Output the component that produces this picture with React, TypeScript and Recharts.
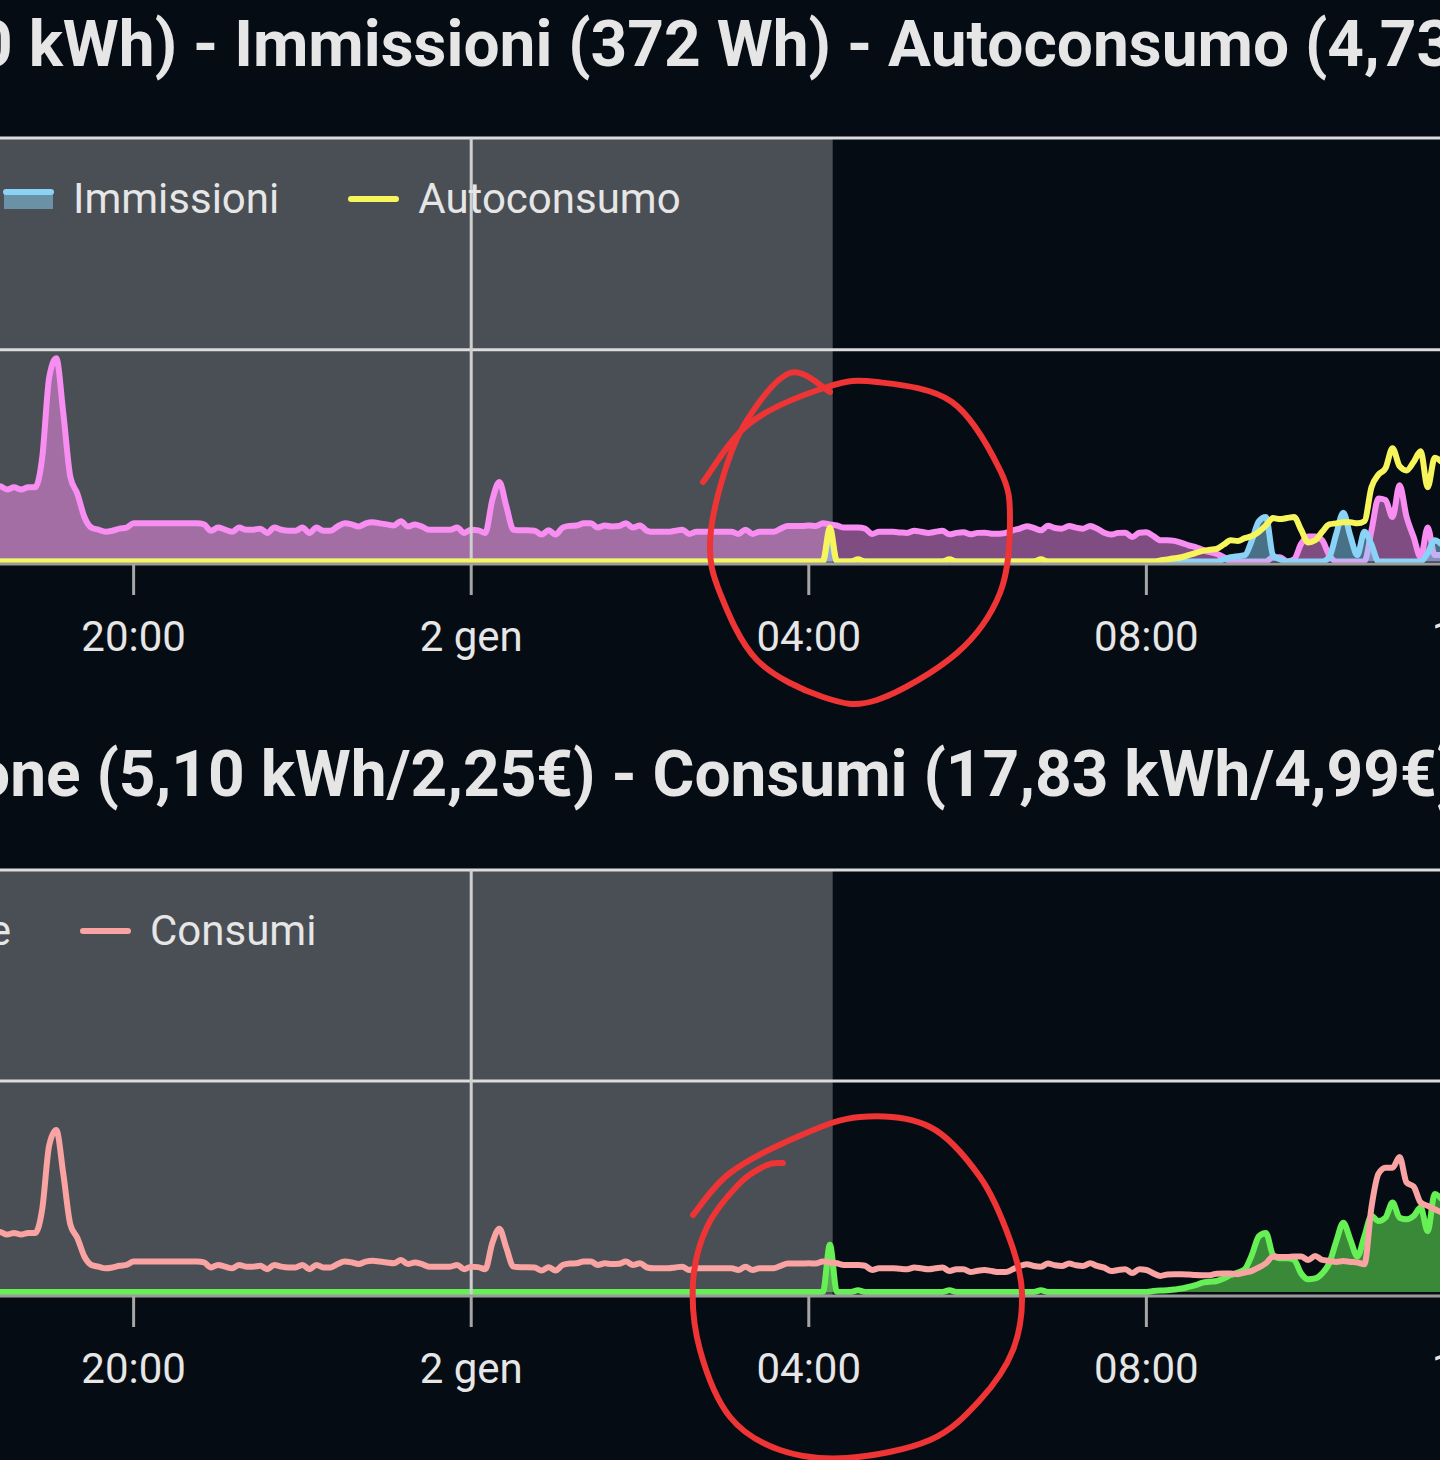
import React from "react";
import { ComposedChart, Area, Line, XAxis, YAxis, ReferenceArea, ReferenceLine, Legend } from "recharts";

// samples every 5 minutes, first one at 18:20 of 1 gen (minutes relative to midnight of 2 gen)
const START_MIN = -340;
const STEP_MIN = 5;

// kW, grid import (pink area, top chart)
const prelievi = [
  0.35, 0.355, 0.34, 0.35, 0.34, 0.35, 0.35, 0.49, 0.87, 0.96, 0.7, 0.4, // 18:20
  0.32, 0.21, 0.16, 0.15, 0.14, 0.145, 0.155, 0.16, 0.18, 0.18, 0.18, 0.18, // 19:20
  0.18, 0.18, 0.18, 0.18, 0.18, 0.18, 0.175, 0.145, 0.16, 0.15, 0.14, 0.16, // 20:20
  0.15, 0.15, 0.155, 0.135, 0.16, 0.15, 0.145, 0.145, 0.16, 0.135, 0.16, 0.145, // 21:20
  0.145, 0.165, 0.18, 0.175, 0.165, 0.18, 0.185, 0.18, 0.175, 0.17, 0.19, 0.165, // 22:20
  0.175, 0.165, 0.15, 0.15, 0.15, 0.15, 0.16, 0.135, 0.15, 0.147, 0.135, 0.29, // 23:20
  0.375, 0.26, 0.15, 0.147, 0.147, 0.145, 0.127, 0.147, 0.127, 0.16, 0.168, 0.17, // 00:20
  0.18, 0.18, 0.16, 0.17, 0.165, 0.167, 0.18, 0.16, 0.17, 0.145, 0.14, 0.14, // 01:20
  0.14, 0.145, 0.15, 0.13, 0.14, 0.14, 0.14, 0.14, 0.14, 0.14, 0.13, 0.15, // 02:20
  0.13, 0.14, 0.14, 0.14, 0.155, 0.168, 0.168, 0.168, 0.17, 0.168, 0.18, 0.175, // 03:20
  0.17, 0.16, 0.16, 0.16, 0.155, 0.13, 0.14, 0.14, 0.14, 0.137, 0.135, 0.145, // 04:20
  0.14, 0.135, 0.14, 0.145, 0.128, 0.135, 0.138, 0.128, 0.135, 0.136, 0.131, 0.131, // 05:20
  0.135, 0.147, 0.155, 0.166, 0.158, 0.147, 0.169, 0.158, 0.155, 0.168, 0.16, 0.155, // 06:20
  0.168, 0.155, 0.136, 0.127, 0.135, 0.136, 0.115, 0.136, 0.138, 0.12, 0.1, 0.1, // 07:20
  0.097, 0.088, 0.076, 0.068, 0.055, 0.044, 0.036, 0.02, 0, 0, 0, 0, // 08:20
  0, 0, 0.02, 0.02, 0, 0.01, 0.083, 0.118, 0.118, 0.1, 0.03, 0, // 09:20
  0, 0, 0, 0, 0.145, 0.297, 0.29, 0.21, 0.36, 0.21, 0.115, 0.02, // 10:20
  0.16, 0.03, 0.03, // 11:20
];

// kW, grid export (blue area, top chart)
const immissioni = [
  0, 0, 0, 0, 0, 0, 0, 0, 0, 0, 0, 0,
  0, 0, 0, 0, 0, 0, 0, 0, 0, 0, 0, 0,
  0, 0, 0, 0, 0, 0, 0, 0, 0, 0, 0, 0,
  0, 0, 0, 0, 0, 0, 0, 0, 0, 0, 0, 0,
  0, 0, 0, 0, 0, 0, 0, 0, 0, 0, 0, 0,
  0, 0, 0, 0, 0, 0, 0, 0, 0, 0, 0, 0,
  0, 0, 0, 0, 0, 0, 0, 0, 0, 0, 0, 0,
  0, 0, 0, 0, 0, 0, 0, 0, 0, 0, 0, 0,
  0, 0, 0, 0, 0, 0, 0, 0, 0, 0, 0, 0,
  0, 0, 0, 0, 0, 0, 0, 0, 0, 0, 0, 0.13,
  0, 0, 0, 0, 0, 0, 0, 0, 0, 0, 0, 0,
  0, 0, 0, 0, 0, 0, 0, 0, 0, 0, 0, 0,
  0, 0, 0, 0, 0, 0, 0, 0, 0, 0, 0, 0,
  0, 0, 0, 0, 0, 0, 0, 0, 0, 0, 0, 0,
  0, 0, 0, 0, 0, 0, 0, 0.01, 0.02, 0.025, 0.03, 0.1,
  0.19, 0.21, 0.03, 0.01, 0, 0, 0, 0, 0, 0, 0.02, 0.13,
  0.23, 0.12, 0.03, 0.14, 0.08, 0, 0, 0, 0, 0, 0, 0,
  0.04, 0.1, 0.08,
];

// kW, self consumption (yellow line, top chart)
const autoconsumo = [
  0, 0, 0, 0, 0, 0, 0, 0, 0, 0, 0, 0,
  0, 0, 0, 0, 0, 0, 0, 0, 0, 0, 0, 0,
  0, 0, 0, 0, 0, 0, 0, 0, 0, 0, 0, 0,
  0, 0, 0, 0, 0, 0, 0, 0, 0, 0, 0, 0,
  0, 0, 0, 0, 0, 0, 0, 0, 0, 0, 0, 0,
  0, 0, 0, 0, 0, 0, 0, 0, 0, 0, 0, 0,
  0, 0, 0, 0, 0, 0, 0, 0, 0, 0, 0, 0,
  0, 0, 0, 0, 0, 0, 0, 0, 0, 0, 0, 0,
  0, 0, 0, 0, 0, 0, 0, 0, 0, 0, 0, 0,
  0, 0, 0, 0, 0, 0, 0, 0, 0, 0, 0, 0.16,
  0, 0, 0, 0.01, 0, 0, 0, 0, 0, 0, 0, 0,
  0, 0, 0, 0, 0.01, 0, 0, 0, 0, 0, 0, 0,
  0, 0, 0, 0, 0, 0.01, 0, 0, 0, 0, 0, 0,
  0, 0, 0, 0, 0, 0, 0, 0, 0, 0, 0.005, 0.01,
  0.015, 0.02, 0.03, 0.04, 0.05, 0.055, 0.06, 0.08, 0.1, 0.097, 0.11, 0.12,
  0.14, 0.17, 0.205, 0.2, 0.205, 0.21, 0.15, 0.09, 0.1, 0.14, 0.175, 0.18,
  0.185, 0.185, 0.18, 0.19, 0.35, 0.41, 0.44, 0.535, 0.45, 0.43, 0.47, 0.52,
  0.35, 0.49, 0.47,
];

// kW, solar production (green area, bottom chart)
const produzione = [
  0, 0, 0, 0, 0, 0, 0, 0, 0, 0, 0, 0,
  0, 0, 0, 0, 0, 0, 0, 0, 0, 0, 0, 0,
  0, 0, 0, 0, 0, 0, 0, 0, 0, 0, 0, 0,
  0, 0, 0, 0, 0, 0, 0, 0, 0, 0, 0, 0,
  0, 0, 0, 0, 0, 0, 0, 0, 0, 0, 0, 0,
  0, 0, 0, 0, 0, 0, 0, 0, 0, 0, 0, 0,
  0, 0, 0, 0, 0, 0, 0, 0, 0, 0, 0, 0,
  0, 0, 0, 0, 0, 0, 0, 0, 0, 0, 0, 0,
  0, 0, 0, 0, 0, 0, 0, 0, 0, 0, 0, 0,
  0, 0, 0, 0, 0, 0, 0, 0, 0, 0, 0, 0.28,
  0, 0, 0, 0.01, 0, 0, 0, 0, 0, 0, 0, 0,
  0, 0, 0, 0, 0.01, 0, 0, 0, 0, 0, 0, 0,
  0, 0, 0, 0, 0, 0.01, 0, 0, 0, 0, 0, 0,
  0, 0, 0, 0, 0, 0, 0, 0, 0, 0.005, 0.008, 0.01,
  0.015, 0.02, 0.03, 0.04, 0.055, 0.06, 0.065, 0.08, 0.1, 0.115, 0.135, 0.22,
  0.33, 0.35, 0.22, 0.2, 0.2, 0.19, 0.11, 0.075, 0.08, 0.11, 0.17, 0.3,
  0.41, 0.31, 0.21, 0.33, 0.45, 0.42, 0.44, 0.53, 0.44, 0.43, 0.45, 0.5,
  0.36, 0.58, 0.55,
];

// kW, house consumption (salmon line, bottom chart)
const consumi = [
  0.35, 0.355, 0.34, 0.35, 0.34, 0.35, 0.35, 0.49, 0.87, 0.96, 0.7, 0.4,
  0.32, 0.21, 0.16, 0.15, 0.14, 0.145, 0.155, 0.16, 0.18, 0.18, 0.18, 0.18,
  0.18, 0.18, 0.18, 0.18, 0.18, 0.18, 0.175, 0.145, 0.16, 0.15, 0.14, 0.16,
  0.15, 0.15, 0.155, 0.135, 0.16, 0.15, 0.145, 0.145, 0.16, 0.135, 0.16, 0.145,
  0.145, 0.165, 0.18, 0.175, 0.165, 0.18, 0.185, 0.18, 0.175, 0.17, 0.19, 0.165,
  0.175, 0.165, 0.15, 0.15, 0.15, 0.15, 0.16, 0.135, 0.15, 0.147, 0.135, 0.29,
  0.375, 0.26, 0.15, 0.147, 0.147, 0.145, 0.127, 0.147, 0.127, 0.16, 0.168, 0.17,
  0.18, 0.18, 0.16, 0.17, 0.165, 0.167, 0.18, 0.16, 0.17, 0.145, 0.14, 0.14,
  0.14, 0.145, 0.15, 0.13, 0.14, 0.14, 0.14, 0.14, 0.14, 0.14, 0.13, 0.15,
  0.13, 0.14, 0.14, 0.14, 0.155, 0.168, 0.168, 0.168, 0.17, 0.168, 0.18, 0.175,
  0.17, 0.16, 0.16, 0.16, 0.155, 0.13, 0.14, 0.14, 0.14, 0.137, 0.135, 0.145,
  0.14, 0.135, 0.14, 0.145, 0.124, 0.134, 0.134, 0.118, 0.126, 0.13, 0.124, 0.118,
  0.118, 0.134, 0.154, 0.164, 0.154, 0.15, 0.168, 0.158, 0.154, 0.168, 0.158, 0.154,
  0.17, 0.154, 0.144, 0.124, 0.13, 0.134, 0.112, 0.135, 0.13, 0.11, 0.095, 0.103,
  0.105, 0.105, 0.103, 0.1, 0.099, 0.099, 0.108, 0.109, 0.109, 0.105, 0.115, 0.125,
  0.145, 0.17, 0.21, 0.207, 0.207, 0.21, 0.21, 0.19, 0.213, 0.19, 0.185, 0.178,
  0.183, 0.178, 0.175, 0.164, 0.5, 0.7, 0.736, 0.736, 0.8, 0.648, 0.625, 0.53,
  0.51, 0.49, 0.47,
];

const tickMinutes = [-240, 0, 240, 480, 720];
const tickLabels = ["20:00", "2 gen", "04:00", "08:00", "12:00"];
const dayStartMin = 0;
const shadedUntilMin = 257;

const topTitle = "0 kWh) - Immissioni (372 Wh) - Autoconsumo (4,73 kWh)";
const bottomTitle = "one (5,10 kWh/2,25€) - Consumi (17,83 kWh/4,99€)";

const rows = prelievi.map((_, i) => ({
  t: START_MIN + i * STEP_MIN,
  prelievi: prelievi[i],
  immissioni: immissioni[i],
  autoconsumo: autoconsumo[i],
  produzione: produzione[i],
  consumi: consumi[i],
}));

const BG = "#060c14";
const SHADE = "#4a4e55";
const TEXT = "#e6e6e6";
const FONT = "Roboto, 'Noto Sans', sans-serif";
const CHART_W = 1600;
const CHART_H = 546;
const X_DOMAIN: [number, number] = [-335, 802.5];

type Serie = { key: string; name: string; color: string; kind: "area" | "line"; fillOpacity?: number };

const topSeries: Serie[] = [
  { key: "prelievi", name: "Prelievi", color: "#f98ef2", kind: "area", fillOpacity: 0.5 },
  { key: "immissioni", name: "Immissioni", color: "#8ad3f7", kind: "area", fillOpacity: 0.5 },
  { key: "autoconsumo", name: "Autoconsumo", color: "#f7f55c", kind: "line" },
];

const bottomSeries: Serie[] = [
  { key: "produzione", name: "Produzione", color: "#66f055", kind: "area", fillOpacity: 0.55 },
  { key: "consumi", name: "Consumi", color: "#f9a3a3", kind: "line" },
];

const ITEM_GAP = 69;

function LegendItem({ s }: { s: Serie }) {
  return (
    <div style={{ display: "flex", alignItems: "center", height: 50, whiteSpace: "nowrap" }}>
      <svg width={51} height={22} style={{ marginRight: 19 }}>
        {s.kind === "area" ? (
          <>
            <rect x={1} y={3} width={49} height={18} fill={s.color} fillOpacity={0.5} />
            <line x1={3} y1={4} x2={48} y2={4} stroke={s.color} strokeWidth={6} strokeLinecap="round" />
          </>
        ) : (
          <line x1={3} y1={11} x2={48} y2={11} stroke={s.color} strokeWidth={6} strokeLinecap="round" />
        )}
      </svg>
      <span style={{ lineHeight: "50px" }}>{s.name}</span>
    </div>
  );
}

function makeLegend(series: Serie[], anchorIndex: number, anchorX: number) {
  return () => (
    <div style={{ position: "relative", width: CHART_W, height: 50, fontFamily: FONT, fontSize: 42, color: TEXT }}>
      <div style={{ position: "absolute", top: 0, right: CHART_W - anchorX + ITEM_GAP, display: "flex", gap: ITEM_GAP }}>
        {series.slice(0, anchorIndex).map((s) => <LegendItem key={s.key} s={s} />)}
      </div>
      <div style={{ position: "absolute", top: 0, left: anchorX, display: "flex", gap: ITEM_GAP }}>
        {series.slice(anchorIndex).map((s) => <LegendItem key={s.key} s={s} />)}
      </div>
    </div>
  );
}

type ChartProps = {
  top: number;
  series: Serie[];
  yDomain: [number, number];
  yTicks: number[];
  legendAnchor: number;
  legendX: number;
};

function EnergyChart({ top, series, yDomain, yTicks, legendAnchor, legendX }: ChartProps) {
  return (
    <div style={{ position: "absolute", left: 0, top }}>
      <ComposedChart width={CHART_W} height={CHART_H} data={rows} margin={{ top: 4, right: 0, bottom: 0, left: 0 }}>
        <ReferenceArea x1={X_DOMAIN[0]} x2={shadedUntilMin} fill={SHADE} fillOpacity={1} stroke="none" ifOverflow="hidden" />
        <XAxis
          dataKey="t"
          type="number"
          domain={X_DOMAIN}
          allowDataOverflow
          ticks={tickMinutes}
          interval={0}
          tickFormatter={(v: number) => tickLabels[tickMinutes.indexOf(v)]}
          height={116}
          axisLine={{ stroke: "#9c9c9c", strokeWidth: 3 }}
          tickLine={{ stroke: "#a6a6a6", strokeWidth: 3 }}
          tickSize={31}
          tickMargin={26}
          tick={{ fill: TEXT, fontSize: 42, fontFamily: FONT }}
        />
        <YAxis hide type="number" domain={yDomain} ticks={yTicks} allowDataOverflow />
        {yTicks.map((v) => (
          <ReferenceLine key={v} y={v} stroke="#dcdcdc" strokeWidth={3} ifOverflow="extendDomain" />
        ))}
        <ReferenceLine x={dayStartMin} stroke="#cfcfcf" strokeWidth={3} />
        {series.map((s) =>
          s.kind === "area" ? (
            <Area
              key={s.key}
              type="monotone"
              dataKey={s.key}
              name={s.name}
              stroke={s.color}
              strokeWidth={6}
              strokeLinejoin="round"
              fill={s.color}
              fillOpacity={s.fillOpacity}
              dot={false}
              activeDot={false}
              isAnimationActive={false}
            />
          ) : (
            <Line
              key={s.key}
              type="monotone"
              dataKey={s.key}
              name={s.name}
              stroke={s.color}
              strokeWidth={6}
              strokeLinejoin="round"
              dot={false}
              activeDot={false}
              isAnimationActive={false}
            />
          )
        )}
        <Legend
          layout="horizontal"
          verticalAlign="middle"
          align="center"
          wrapperStyle={{ top: 40, left: 0, width: CHART_W, height: 50 }}
          content={makeLegend(series, legendAnchor, legendX)}
        />
      </ComposedChart>
    </div>
  );
}

// hand-drawn red annotations over the screenshot
const circleTop = [
  [703, 482], [750, 423], [827, 387], [877, 382], [952, 402], [1000, 470], [1010, 520], [1000, 593],
  [957, 653], [877, 700], [823, 697], [757, 660], [720, 593], [710, 543], [723, 477], [747, 420],
  [790, 373], [830, 392],
];
const circleBottom = [
  [693, 1215], [730, 1173], [797, 1137], [860, 1117], [930, 1127], [980, 1177], [1010, 1240], [1022, 1293],
  [1013, 1350], [980, 1400], [930, 1440], [847, 1458], [780, 1450], [730, 1417], [700, 1350], [693, 1283],
  [707, 1227], [740, 1183], [767, 1165], [783, 1163],
];

function smoothPath(pts: number[][]) {
  let d = `M${pts[0][0]},${pts[0][1]}`;
  for (let i = 0; i < pts.length - 1; i++) {
    const p0 = pts[i - 1] || pts[i];
    const p1 = pts[i];
    const p2 = pts[i + 1];
    const p3 = pts[i + 2] || p2;
    const c1 = [p1[0] + (p2[0] - p0[0]) / 6, p1[1] + (p2[1] - p0[1]) / 6];
    const c2 = [p2[0] - (p3[0] - p1[0]) / 6, p2[1] - (p3[1] - p1[1]) / 6];
    d += ` C${c1[0]},${c1[1]} ${c2[0]},${c2[1]} ${p2[0]},${p2[1]}`;
  }
  return d;
}

const titleStyle: React.CSSProperties = {
  position: "absolute",
  fontFamily: FONT,
  fontSize: 64,
  fontWeight: 700,
  lineHeight: "64px",
  color: TEXT,
  whiteSpace: "nowrap",
};

export default function App() {
  return (
    <div
      style={{
        position: "absolute",
        left: 0,
        top: 0,
        width: 1440,
        height: 1460,
        overflow: "hidden",
        background: BG,
        fontFamily: FONT,
      }}
    >
      <div style={{ ...titleStyle, left: -24, top: 13 }}>{topTitle}</div>
      <EnergyChart top={134} series={topSeries} yDomain={[-0.012, 2]} yTicks={[1, 2]} legendAnchor={1} legendX={3} />
      <div style={{ ...titleStyle, left: -26, top: 743 }}>{bottomTitle}</div>
      <EnergyChart top={866} series={bottomSeries} yDomain={[-0.024, 2.5]} yTicks={[1.25, 2.5]} legendAnchor={1} legendX={80} />
      <svg width={1440} height={1460} style={{ position: "absolute", left: 0, top: 0, pointerEvents: "none" }}>
        <path d={smoothPath(circleTop)} fill="none" stroke="#ee3434" strokeWidth={6} strokeLinecap="round" strokeLinejoin="round" />
        <path d={smoothPath(circleBottom)} fill="none" stroke="#ee3434" strokeWidth={6} strokeLinecap="round" strokeLinejoin="round" />
      </svg>
    </div>
  );
}
